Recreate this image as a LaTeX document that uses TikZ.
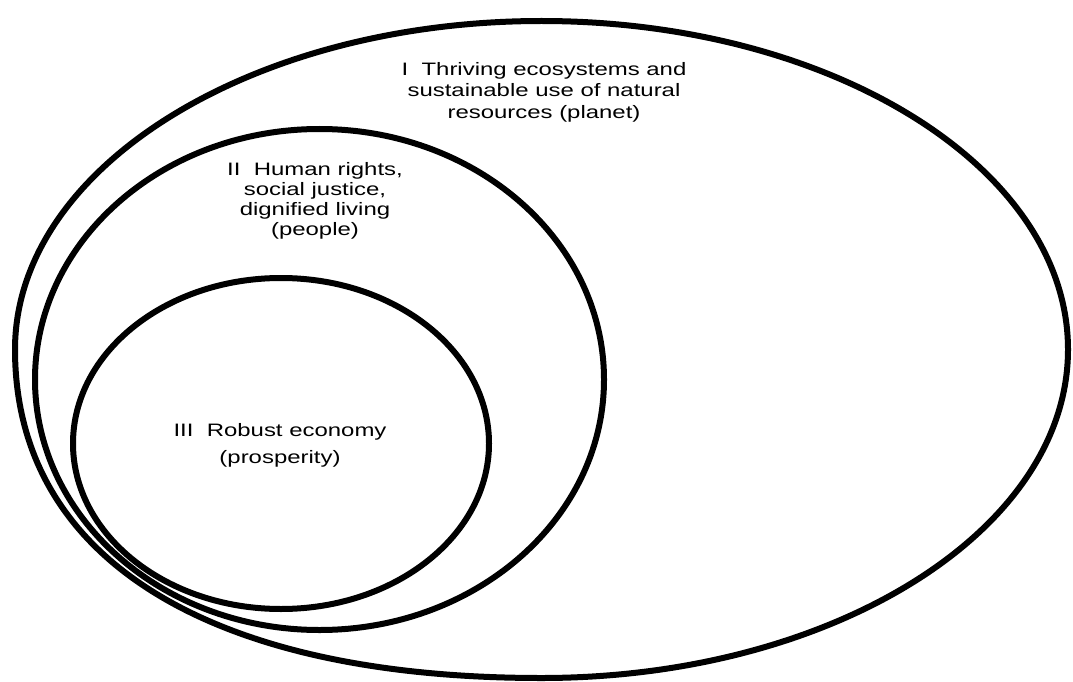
\documentclass[tikz,border=0pt]{standalone}
\usepackage{fontspec}
\setmainfont[FakeStretch=1.33]{Liberation Sans}
\begin{document}
\begin{tikzpicture}[x=1pt,y=-1pt,
    ring/.style={line width=6pt},
    ringtext/.style={align=center,inner sep=0pt,font=\fontsize{18}{21.5}\selectfont}]
    \useasboundingbox (0,0) rectangle (1073,682);
    % outer ring, a little fuller at the lower left
    \draw[ring] (15,349.5) .. controls (15,556) and (205,678) .. (541.5,678)
        .. controls (832.3,678) and (1068,530.9) .. (1068,349.5)
        .. controls (1068,168.1) and (832.3,21) .. (541.5,21)
        .. controls (250.7,21) and (15,168.1) .. (15,349.5) -- cycle;
    \draw[ring] (319.5,379.5) ellipse [x radius=284.5, y radius=250.5];
    \draw[ring] (281,443.5) ellipse [x radius=208, y radius=165.5];
    \node[ringtext] (planet) at (544,92) {I\ \ Thriving ecosystems and\\sustainable use of natural\\resources (planet)};
    \node[ringtext,font=\fontsize{18}{20}\selectfont] (people) at (315,201) {II\ \ Human rights,\\social justice,\\dignified living\\(people)};
    \node[ringtext,font=\fontsize{18}{27}\selectfont] (prosperity) at (280,445) {III\ \ Robust economy\\(prosperity)};
\end{tikzpicture}
\end{document}
